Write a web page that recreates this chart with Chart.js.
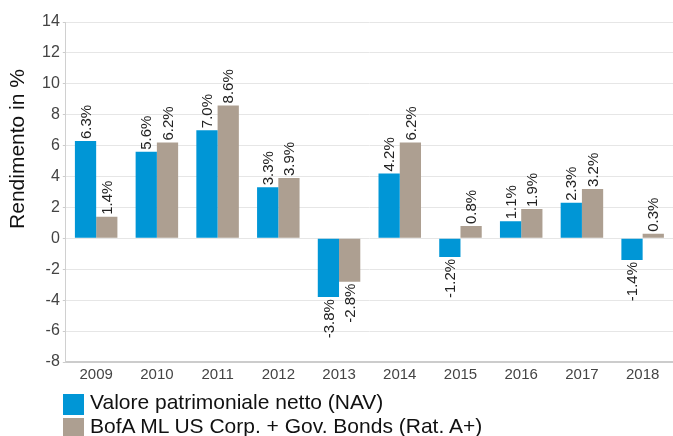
<!DOCTYPE html>
<html>
<head>
<meta charset="utf-8">
<script src="https://cdn.jsdelivr.net/npm/chart.js@4"></script>
<style>
  html, body { margin: 0; padding: 0; background: #fff; }
  #wrap { width: 673px; height: 436px; position: relative; overflow: hidden; font-family: "Liberation Sans", Arial, sans-serif; }
  #chart { position: absolute; left: 0; top: 0; }
  #legend { position: absolute; left: 63px; top: 394px; }
  .item { height: 24px; display: flex; align-items: flex-start; font-size: 21px; line-height: 15px; color: #111; }
  .box { width: 21px; height: 21px; margin-right: 6px; flex: none; }
</style>
</head>
<body>
<div id="wrap">
  <canvas id="chart" width="673" height="400"></canvas>
  <div id="legend"></div>
</div>
<script>
const years = ['2009', '2010', '2011', '2012', '2013', '2014', '2015', '2016', '2017', '2018'];
const navValues = [6.3, 5.6, 7.0, 3.3, -3.8, 4.2, -1.2, 1.1, 2.3, -1.4];
const benchValues = [1.4, 6.2, 8.6, 3.9, -2.8, 6.2, 0.8, 1.9, 3.2, 0.3];
const seriesNames = ['Valore patrimoniale netto (NAV)', 'BofA ML US Corp. + Gov. Bonds (Rat. A+)'];
const yTitle = 'Rendimento in %';

const COLORS = { blue: '#0096d6', tan: '#ad9f91' };
const FONT = '"Liberation Sans", Arial, sans-serif';

// draws the rotated % labels at the end of each bar + the y title
const barLabels = {
    id: 'barLabels',
    afterDatasetsDraw(chart) {
        const ctx = chart.ctx;
        ctx.save();
        ctx.font = '15px ' + FONT;
        ctx.fillStyle = '#222';
        ctx.textBaseline = 'middle';
        chart.data.datasets.forEach((ds, i) => {
            chart.getDatasetMeta(i).data.forEach((bar, j) => {
                const v = ds.data[j];
                const txt = v.toFixed(1) + '%';
                ctx.save();
                if (v >= 0) {
                    ctx.translate(bar.x, bar.y - 2);
                    ctx.rotate(-Math.PI / 2);
                    ctx.textAlign = 'left';
                } else {
                    ctx.translate(bar.x, bar.y + 2);
                    ctx.rotate(-Math.PI / 2);
                    ctx.textAlign = 'right';
                }
                ctx.fillText(txt, 0, 1);
                ctx.restore();
            });
        });
        // y axis title, sits a bit above the axis middle like the original
        ctx.save();
        ctx.font = '21px ' + FONT;
        ctx.fillStyle = '#111';
        ctx.textAlign = 'center';
        ctx.translate(18, 149);
        ctx.rotate(-Math.PI / 2);
        ctx.fillText(yTitle, 0, 0);
        ctx.restore();
        ctx.restore();
    }
};

const chart = new Chart(document.getElementById('chart'), {
    type: 'bar',
    data: {
        labels: years,
        datasets: [
            { label: seriesNames[0], data: navValues, backgroundColor: COLORS.blue },
            { label: seriesNames[1], data: benchValues, backgroundColor: COLORS.tan }
        ]
    },
    options: {
        responsive: false,
        animation: false,
        datasets: { bar: { categoryPercentage: 0.7, barPercentage: 1.0 } },
        layout: { padding: { top: 22, right: 0, left: 39, bottom: 20 } },
        plugins: {
            legend: { display: false },
            tooltip: { enabled: false }
        },
        scales: {
            x: {
                grid: { display: false },
                border: { color: '#cccccc', width: 2 },
                ticks: { color: '#444', font: { size: 15, family: FONT }, padding: -4 }
            },
            y: {
                min: -8,
                max: 14,
                ticks: { stepSize: 2, color: '#444', font: { size: 16, family: FONT }, padding: 3 },
                grid: { color: '#e6e6e6', tickLength: 3, tickColor: '#cccccc' },
                border: { color: '#d0d0d0', width: 1 }
            }
        }
    },
    plugins: [barLabels]
});

// html legend from the datasets
const legendEl = document.getElementById('legend');
chart.data.datasets.forEach(ds => {
    const row = document.createElement('div');
    row.className = 'item';
    const box = document.createElement('span');
    box.className = 'box';
    box.style.background = ds.backgroundColor;
    row.appendChild(box);
    row.appendChild(document.createTextNode(ds.label));
    legendEl.appendChild(row);
});
</script>
</body>
</html>
